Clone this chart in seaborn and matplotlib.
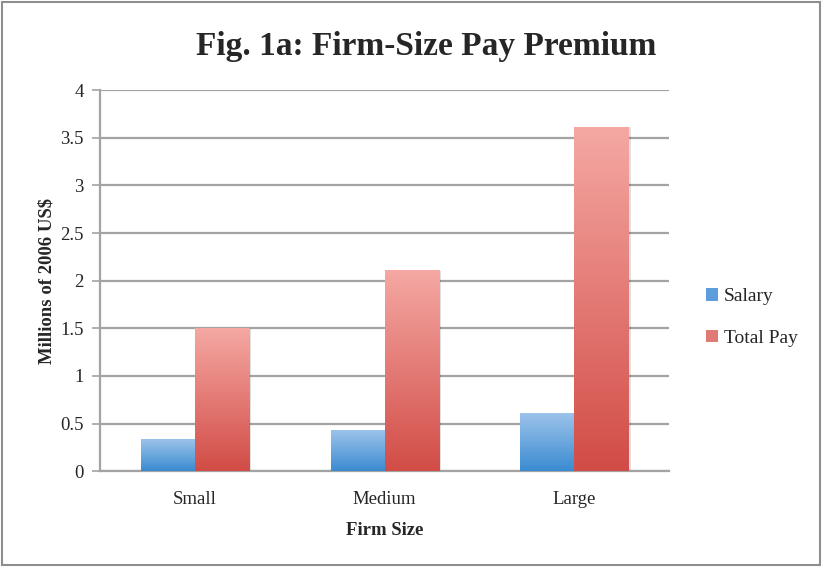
import numpy as np
import pandas as pd
import matplotlib
matplotlib.use("Agg")
import matplotlib.pyplot as plt
import seaborn as sns
from matplotlib.colors import LinearSegmentedColormap
from matplotlib.patches import Patch, Rectangle

# data
sizes = ["Small", "Medium", "Large"]
salary = [0.33, 0.43, 0.60]
total_pay = [1.50, 2.10, 3.61]
series = ["Salary", "Total Pay"]
y_ticks = [0, 0.5, 1, 1.5, 2, 2.5, 3, 3.5, 4]

df = pd.DataFrame({
    "size": sizes * 2,
    "series": ["Salary"] * 3 + ["Total Pay"] * 3,
    "value": salary + total_pay,
})

# top (light) -> bottom (dark) gradient colours
grad = {
    "Salary": ("#9cc3ea", "#3a8bd1"),
    "Total Pay": ("#f5a8a3", "#d24c46"),
}

sns.set_style("white")
plt.rcParams["font.family"] = ["Liberation Serif", "DejaVu Serif"]

fig = plt.figure(figsize=(8.22, 5.67), dpi=100)
ax = fig.add_axes([0.122, 0.169, 0.692, 0.672])

sns.barplot(data=df, x="size", y="value", hue="series", order=sizes,
            hue_order=series, width=0.57, gap=0, legend=False,
            palette=["#6aa5de", "#e27a73"], ax=ax, zorder=3)

# replace flat fills with vertical gradients
for cont, name in zip(ax.containers, series):
    top, bot = grad[name]
    cmap = LinearSegmentedColormap.from_list(name, [bot, top])
    for rect in cont:
        x, w, h = rect.get_x(), rect.get_width(), rect.get_height()
        # soft shadow on the right side
        ax.add_patch(Rectangle((x + w, 0), 0.012, h, color="#000000",
                               alpha=0.12, lw=0, zorder=2))
        g = np.linspace(0, 1, 256).reshape(-1, 1)
        ax.imshow(g, cmap=cmap, origin="lower", aspect="auto",
                  extent=[x, x + w, 0, h], zorder=3)
        rect.set_visible(False)

ax.set_xlim(-0.5, 2.5)
ax.set_ylim(0, 4)
ax.set_yticks(y_ticks)
ax.set_yticklabels(["0", "0.5", "1", "1.5", "2", "2.5", "3", "3.5", "4"])
ax.yaxis.grid(True, color="#a3a3a3", lw=1.6, zorder=0)
ax.set_axisbelow(True)

for s in ["top", "right"]:
    ax.spines[s].set_visible(False)
for s in ["left", "bottom"]:
    ax.spines[s].set_color("#a3a3a3")
    ax.spines[s].set_linewidth(1.6)

ax.set_xticks([-0.5, 0.5, 1.5, 2.5], minor=True)
ax.tick_params(axis="x", which="major", length=0, labelsize=13.5, pad=14)
ax.tick_params(axis="x", which="minor", length=6, width=1.2,
               color="#a3a3a3", direction="out")
ax.tick_params(axis="y", length=6, width=1.2, color="#a3a3a3",
               direction="out", labelsize=13.5, pad=6)
ax.tick_params(left=True, bottom=True)

ax.set_xlabel("Firm Size", fontsize=13.5, fontweight="bold", labelpad=10)
ax.set_ylabel("Millions of 2006 US\\$", fontsize=13.5, fontweight="bold",
              labelpad=3)

fig.suptitle("Fig. 1a: Firm-Size Pay Premium", fontsize=24,
             fontweight="bold", x=0.518, y=0.945)

handles = [Patch(facecolor="#5d9ddb", edgecolor="none"),
           Patch(facecolor="#e07a74", edgecolor="none")]
fig.legend(handles, series, loc="center left", bbox_to_anchor=(0.838, 0.44),
           frameon=False, fontsize=14, handlelength=0.6, handleheight=0.6,
           handletextpad=0.3, labelspacing=1.25)

# grey frame around the chart
fig.patches.append(Rectangle((0.003, 0.004), 0.994, 0.992,
                             transform=fig.transFigure, fill=False,
                             edgecolor="#8e8e8e", lw=1.5))

fig.savefig("out.png", dpi=100)
